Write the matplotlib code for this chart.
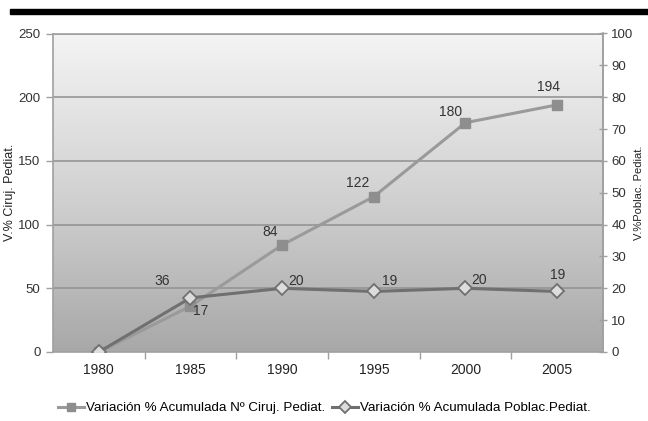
import numpy as np
import matplotlib
matplotlib.use("Agg")
import matplotlib.pyplot as plt
from matplotlib.patches import Rectangle
from matplotlib.colors import LinearSegmentedColormap

plt.rcParams['font.family'] = ['Liberation Sans', 'DejaVu Sans']

years = [1980, 1985, 1990, 1995, 2000, 2005]
cirujanos = [0, 36, 84, 122, 180, 194]        # left axis
poblacion = [0, 17, 20, 19, 20, 19]           # right axis
year_labels = ['1980', '1985', '1990', '1995', '2000', '2005']
left_ticks = [0, 50, 100, 150, 200, 250]
right_ticks = [0, 10, 20, 30, 40, 50, 60, 70, 80, 90, 100]

# label offsets in pixels (dx, dy)
cir_offsets = [None, (-28, 25), (-12, 13), (-16, 14), (-15, 11), (-9, 18)]
pob_offsets = [None, (10, -13), (14, 7), (16, 10), (14, 8), (0, 16)]

fig = plt.figure(figsize=(6.48, 4.21), dpi=100)
fig.patches.append(Rectangle((10 / 648, 1 - 13.5 / 421), 638 / 648, 4.5 / 421,
                             transform=fig.transFigure, color='black', zorder=5))

ax = fig.add_axes([53 / 648, 1 - 352 / 421, 550 / 648, (352 - 33.5) / 421])
ax.set_xlim(1977.5, 2007.5)
ax.set_ylim(0, 250)

# gradient background
grad = np.linspace(0, 1, 256).reshape(-1, 1)
cmap = LinearSegmentedColormap.from_list('bg', ['#a8a8a8', '#d2d2d2', '#f4f4f4'])
ax.imshow(grad, aspect='auto', cmap=cmap, origin='lower',
          extent=[1977.5, 2007.5, 0, 250], zorder=0)
ax.set_facecolor('white')

for y in left_ticks[1:]:
    ax.axhline(y, color='#959595', lw=1.2, zorder=1)

gray_spine = '#a0a0a0'
for s in ax.spines.values():
    s.set_color(gray_spine)
    s.set_linewidth(1.2)

ax.set_yticks(left_ticks)
ax.set_xticks(years)
ax.set_xticklabels(year_labels)
ax.set_xticks(np.arange(1982.5, 2005, 5), minor=True)
ax.tick_params(axis='x', which='major', length=0, pad=8, labelsize=10, colors='#222222')
ax.tick_params(axis='x', which='minor', length=5, width=1, color=gray_spine, direction='out')
ax.tick_params(axis='y', length=5, width=1, color=gray_spine, direction='out',
               labelsize=9.5, labelcolor='#333333', pad=4)
ax.set_ylabel('V.% Ciruj. Pediat.', fontsize=9, color='#222222')
ax.yaxis.set_label_coords(-0.068, 0.5)

ax2 = ax.twinx()
ax2.set_ylim(0, 100)
ax2.set_yticks(right_ticks)
ax2.tick_params(axis='y', length=6, width=1, color=gray_spine, direction='inout',
                labelsize=9.5, labelcolor='#333333', pad=3)
for s in ax2.spines.values():
    s.set_visible(False)
ax2.spines['right'].set_visible(True)
ax2.spines['right'].set_color(gray_spine)
ax2.spines['right'].set_linewidth(1.2)
ax2.set_ylabel('V.%Poblac. Pediat.', fontsize=8, color='#222222', rotation=90)
ax2.yaxis.set_label_coords(1.057, 0.5)

line_c, = ax.plot(years, cirujanos, color='#9a9a9a', lw=2.2, marker='s',
                  markersize=7, markerfacecolor='#8e8e8e', markeredgecolor='#8e8e8e',
                  zorder=3, label='Variación % Acumulada Nº Ciruj. Pediat.')
line_p, = ax2.plot(years, poblacion, color='#707070', lw=2.2, marker='D',
                   markersize=7.5, markerfacecolor='#dcdcdc', markeredgecolor='#707070',
                   markeredgewidth=1.3, zorder=4,
                   label='Variación % Acumulada Poblac.Pediat.')

for x, v, off in zip(years, cirujanos, cir_offsets):
    if off is None:
        continue
    ax.annotate(str(v), (x, v), xytext=off, textcoords='offset pixels',
                ha='center', va='center', fontsize=10, color='#333333', zorder=6)
for x, v, off in zip(years, poblacion, pob_offsets):
    if off is None:
        continue
    ax2.annotate(str(v), (x, v), xytext=off, textcoords='offset pixels',
                 ha='center', va='center', fontsize=10, color='#333333', zorder=6)

fig.legend(handles=[line_c, line_p], loc='center', bbox_to_anchor=(0.5, 13 / 421),
           ncol=2, frameon=False, fontsize=9.6, handlelength=2.0, handletextpad=0.1,
           columnspacing=0.5, markerscale=0.75)

fig.savefig('out.png', dpi=100)
